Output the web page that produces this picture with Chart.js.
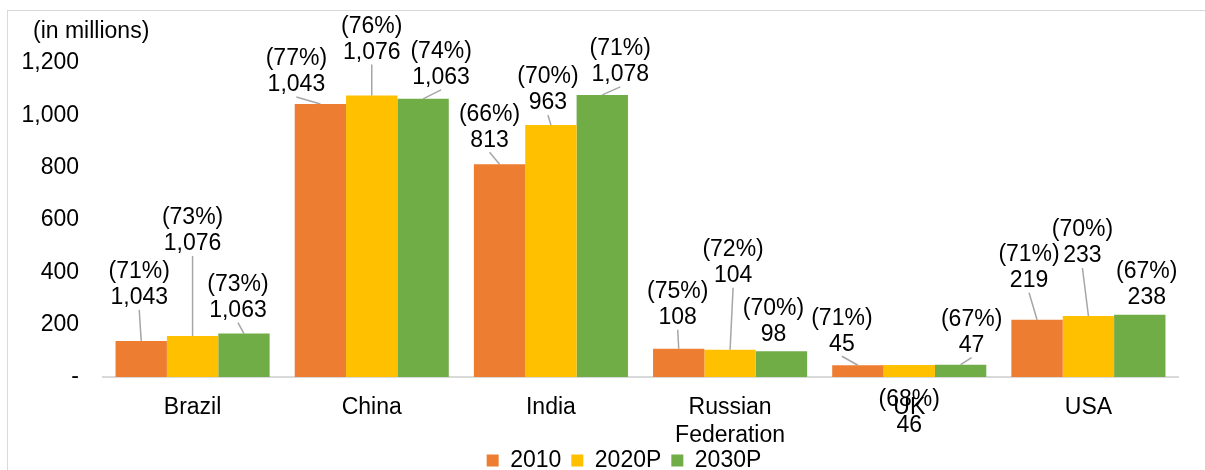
<!DOCTYPE html>
<html>
<head>
<meta charset="utf-8">
<script src="https://cdn.jsdelivr.net/npm/chart.js@4.4.1/dist/chart.umd.min.js"></script>
<style>
  html, body { margin: 0; padding: 0; background: #fff; }
  #wrap { width: 1205px; height: 470px; position: relative; }
</style>
</head>
<body>
<div id="wrap"><canvas id="chart" width="1205" height="470"></canvas></div>
<script>
// Data
const categories = ['Brazil', 'China', 'India', ['Russian', 'Federation'], 'UK', 'USA'];
const seriesNames = ['2010', '2020P', '2030P'];
const values2010 = [138, 1043, 813, 108, 45, 219];
const values2020 = [157, 1076, 963, 104, 46, 233];
const values2030 = [166, 1063, 1078, 98, 47, 238];

// Data label texts as printed in the picture
const share2010 = ['71%', '77%', '66%', '75%', '71%', '71%'];
const share2020 = ['73%', '76%', '70%', '72%', '68%', '70%'];
const share2030 = ['73%', '74%', '71%', '70%', '67%', '67%'];
const shown2010 = ['1,043', '1,043', '813', '108', '45', '219'];
const shown2020 = ['1,076', '1,076', '963', '104', '46', '233'];
const shown2030 = ['1,063', '1,063', '1,078', '98', '47', '238'];

const yTicks = [0, 200, 400, 600, 800, 1000, 1200];

// Label placement (px from top centre of each bar) [dx, dy]
const labelOffsets = [
    [[-2, -43], [-24, -19], [-10, -24], [-1, -31], [-16, -21], [-8, -39]],
    [[0, -92], [0, -43], [-3, -22], [3, -74], [0, 61], [-6, -60]],
    [[-6, -23], [18, -21], [18, -20], [-8, -17], [11, -19], [7, -17]]
];

const colors = ['#ED7D31', '#FFC000', '#70AD47'];
const FONT = '"Liberation Sans", Arial, sans-serif';
const FS = 23;
const LEGEND_PAD = 10;

const labelPlugin = {
    id: 'barLabels',
    afterDatasetsDraw(chart) {
        const ctx = chart.ctx;
        const shares = [share2010, share2020, share2030];
        const shown = [shown2010, shown2020, shown2030];
        ctx.save();
        chart.data.datasets.forEach((ds, di) => {
            const meta = chart.getDatasetMeta(di);
            meta.data.forEach((bar, i) => {
                const [dx, dy] = labelOffsets[di][i];
                const lx = bar.x + dx;
                const ly = bar.y + dy;
                // leader line
                const startY = ly + 12;
                if (dy < 0 && bar.y - startY > 5) {
                    ctx.strokeStyle = '#a6a6a6';
                    ctx.lineWidth = 1.5;
                    ctx.beginPath();
                    ctx.moveTo(lx, startY);
                    ctx.lineTo(bar.x, bar.y);
                    ctx.stroke();
                }
                ctx.fillStyle = '#000';
                ctx.font = FS + 'px ' + FONT;
                ctx.textAlign = 'center';
                ctx.textBaseline = 'middle';
                ctx.fillText('(' + shares[di][i] + ')', lx, ly - 26);
                ctx.fillText(shown[di][i], lx, ly);
            });
        });
        ctx.restore();
    }
};

const framePlugin = {
    id: 'frame',
    afterLayout(chart) {
        // legend sits a bit right of centre and low in the original
        if (chart.legend) {
            const up = LEGEND_PAD - 2;
            chart.legend.left += 35;
            chart.legend.right += 35;
            chart.legend.top -= up;
            chart.legend.bottom -= up;
        }
    },
    beforeDraw(chart) {
        const ctx = chart.ctx;
        ctx.save();
        ctx.fillStyle = '#fff';
        ctx.fillRect(0, 0, chart.width, chart.height);
        ctx.strokeStyle = '#d9d9d9';
        ctx.lineWidth = 1;
        ctx.strokeRect(7.5, 10.5, 1210, 480);
        ctx.restore();
    },
    afterDraw(chart) {
        const ctx = chart.ctx;
        ctx.save();
        ctx.fillStyle = '#000';
        ctx.font = FS + 'px ' + FONT;
        ctx.textAlign = 'left';
        ctx.textBaseline = 'middle';
        ctx.fillText('(in millions)', 33, 32);
        ctx.restore();
    }
};

new Chart(document.getElementById('chart'), {
    type: 'bar',
    data: {
        labels: categories,
        datasets: [
            { label: seriesNames[0], data: values2010, backgroundColor: colors[0] },
            { label: seriesNames[1], data: values2020, backgroundColor: colors[1] },
            { label: seriesNames[2], data: values2030, backgroundColor: colors[2] }
        ]
    },
    options: {
        responsive: false,
        animation: false,
        devicePixelRatio: 1,
        categoryPercentage: 0.86,
        barPercentage: 1,
        layout: { padding: { left: 0, right: 27, top: 63, bottom: -12 - (LEGEND_PAD - 2) } },
        plugins: {
            legend: {
                position: 'bottom',
                labels: {
                    color: '#000',
                    font: { family: FONT, size: FS },
                    boxWidth: 12,
                    boxHeight: 12,
                    padding: LEGEND_PAD
                }
            },
            tooltip: { enabled: false }
        },
        scales: {
            x: {
                grid: { display: false, drawTicks: false },
                border: { display: true, color: '#d9d9d9', width: 2 },
                ticks: {
                    color: '#000',
                    font: { family: FONT, size: FS },
                    padding: 17,
                    maxRotation: 0,
                    autoSkip: false
                },
                afterFit(scale) { scale.height = 70; }
            },
            y: {
                min: 0,
                max: 1200,
                grid: { display: false, drawTicks: false },
                border: { display: false },
                afterBuildTicks(scale) {
                    scale.ticks = yTicks.map(v => ({ value: v }));
                },
                ticks: {
                    color: '#000',
                    font: { family: FONT, size: FS },
                    padding: 24,
                    callback: v => v === 0 ? '-' : v.toLocaleString('en-US')
                },
                afterFit(scale) { scale.width = 103; }
            }
        }
    },
    plugins: [framePlugin, labelPlugin]
});
</script>
</body>
</html>
